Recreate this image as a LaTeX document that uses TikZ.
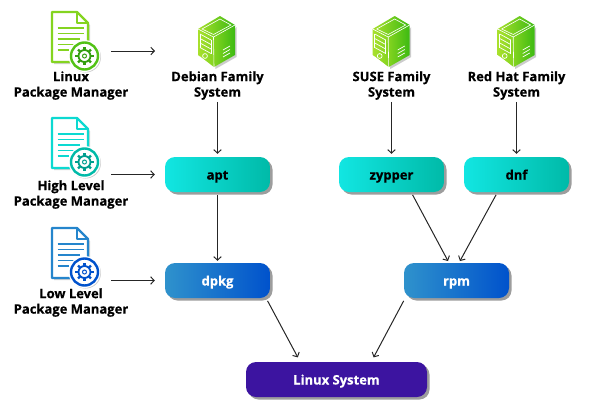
\documentclass[tikz,border=0pt]{standalone}
\usepackage{fontspec}
\setmainfont{Open Sans}[BoldFeatures={FakeBold=0.5}]
\usepackage{tikz}
\usetikzlibrary{arrows.meta,shadows}

\definecolor{aptleft}{HTML}{12E6E2}
\definecolor{aptright}{HTML}{00BAA8}
\definecolor{dpkgleft}{HTML}{2F92CC}
\definecolor{dpkgright}{HTML}{0052CC}
\definecolor{sysfill}{HTML}{3C14A0}
\definecolor{srvlight}{HTML}{A8E02C}
\definecolor{srvmid}{HTML}{84D420}
\definecolor{srvdark}{HTML}{3CBA12}

\tikzset{
    box/.style={rounded corners=10, minimum width=105, minimum height=35, inner sep=0,
        text height=13, text depth=3,
        font=\fontsize{13}{15}\selectfont\bfseries,
        drop shadow={shadow xshift=2.5, shadow yshift=2.5, fill=black!55, opacity=0.7}},
    highbox/.style={box, left color=aptleft, right color=aptright, text=black},
    lowbox/.style={box, left color=dpkgleft, right color=dpkgright, text=white},
    label/.style={align=center, inner sep=0, text=black,
        font=\fontsize{13}{15.5}\selectfont\bfseries},
    arrow/.style={->, >={Straight Barb[length=3.5pt,width=7.5pt]}, line width=1pt, draw=black!85},
    pics/docicon/.style n args={3}{code={
        % sheet
        \fill[black!35, opacity=0.5] (2,2) -- (27,2) -- (38,13) -- (38,52) -- (2,52) -- cycle;
        \draw[#1, line width=2.4, fill=white, line join=round] (0,0) -- (25,0) -- (36,11) -- (36,50) -- (0,50) -- cycle;
        \draw[#1, line width=1.6, line join=round] (25,0) -- (25,11) -- (36,11);
        % text lines
        \foreach \ypos/\xend in {16/31.5, 21.5/31.5, 27/28, 32.5/24, 38/17}
            \draw[#1, line width=1.8] (5.5,\ypos) -- (\xend,\ypos);
        % badge
        \fill[black!40, opacity=0.5] (33.5,45) circle (15.5);
        \fill[white] (32.5,44) circle (16);
        \draw[#2, line width=2.4, fill=white] (32.5,44) circle (13.5);
        \foreach \ang in {0,45,...,315}
            \draw[#3, line width=2.4] (32.5,44) ++(\ang:5.5) -- ++(\ang:3.6);
        \draw[#3, line width=1.8, fill=white] (32.5,44) circle (6);
        \draw[#3, line width=1] (32.5,44) circle (2);
    }},
    pics/servericon/.style={code={
        \fill[black!40, opacity=0.5] (38.5,11) -- (38.5,41) -- (17.5,53) -- (17,40) -- cycle;
        \shade[left color=srvlight, right color=srvmid] (0,13) -- (15.5,21) -- (16,51) -- (0,39) -- cycle;
        \shade[left color=srvmid, right color=srvdark] (15.5,21) -- (37,9) -- (37,39) -- (16,51) -- cycle;
        \shade[left color=srvlight, right color=srvdark] (0,13) -- (22,0) -- (37,9) -- (15.5,21) -- cycle;
        \draw[white, line width=0.6] (4,13) -- (22,3) -- (33,9) -- (15.5,18.5) -- cycle;
        \draw[white, line width=0.6] (0,13) -- (15.5,21) -- (37,9);
        \draw[white, line width=0.6] (15.5,21) -- (16,51);
        % drive bays
        \foreach \ypos in {0,4.5,9,13.5}
            \draw[white, line width=0.7] (2,18+\ypos) -- (13,24+\ypos);
        \draw[white, line width=0.7] (2,18) -- (2,31.5) (13,24) -- (13,37.5);
        \draw[white, line width=0.7] (7,40) circle (2.4);
        \draw[white, line width=0.7] (2,45) -- (2,40.5) (2,41) -- (12,49);
        % vents
        \foreach \ypos in {0,3.5,7}
            \draw[white, line width=0.7] (25,34+\ypos) -- (32,30+\ypos);
    }},
}

\begin{document}
\begin{tikzpicture}[x=1pt, y=-1pt]
    \useasboundingbox (0,0) rectangle (590,405);

    \pic at (52,12) {docicon={srvmid}{srvdark!70!srvmid}{srvdark!85!black}};
    \pic at (52,118) {docicon={aptleft!70!aptright}{aptright}{aptright!85!black}};
    \pic at (52,228) {docicon={dpkgleft!80!dpkgright}{dpkgright}{dpkgright}};

    \pic at (198,16) {servericon};
    \pic at (372.7,16) {servericon};
    \pic at (497.7,16) {servericon};

    \node[label] (LinuxPM) at (71,85.5) {Linux\\Package Manager};
    \node[label] (HighPM) at (71,194.5) {High Level\\Package Manager};
    \node[label] (LowPM) at (71,302.5) {Low Level\\Package Manager};

    \node[label] (Debian) at (217.5,85.5) {Debian Family\\System};
    \node[label] (SUSE) at (391.5,85.5) {SUSE Family\\System};
    \node[label] (RedHat) at (516.5,85.5) {Red Hat Family\\System};

    \node[highbox] (apt) at (217.5,174.5) {apt};
    \node[highbox] (zypper) at (391.5,174.5) {zypper};
    \node[highbox] (dnf) at (516.5,174.5) {dnf};

    \node[lowbox] (dpkg) at (217.5,280.5) {dpkg};
    \node[lowbox] (rpm) at (456.5,280.5) {rpm};

    \node[box, minimum width=181, fill=sysfill, text=white] (LinuxSys) at (336.5,379.5) {Linux System};

    \coordinate (LinuxOut) at (111,51);
    \coordinate (DebianIn) at (155,51);
    \coordinate (HighOut) at (111,174.5);
    \coordinate (LowOut) at (111,280.5);

    \draw[arrow] (LinuxOut) -- (DebianIn);
    \draw[arrow, shorten >=10] (HighOut) -- (apt.west);
    \draw[arrow, shorten >=10] (LowOut) -- (dpkg.west);

    \draw[arrow, shorten <=2, shorten >=3] (Debian.south) -- (apt.north);
    \draw[arrow, shorten <=2, shorten >=3] (SUSE.south) -- (zypper.north);
    \draw[arrow, shorten <=2, shorten >=3] (RedHat.south) -- (dnf.north);

    \draw[arrow, shorten <=3, shorten >=2] (apt.south) -- (dpkg.north);
    \draw[arrow, shorten <=3, shorten >=2] (zypper.-42) -- (rpm.113);
    \draw[arrow, shorten <=3, shorten >=2] (dnf.-137) -- (rpm.82);
    \draw[arrow, shorten <=3, shorten >=5] (dpkg.-20) -- (LinuxSys.154);
    \draw[arrow, shorten <=3, shorten >=5] (rpm.-161) -- (LinuxSys.27);
\end{tikzpicture}
\end{document}
